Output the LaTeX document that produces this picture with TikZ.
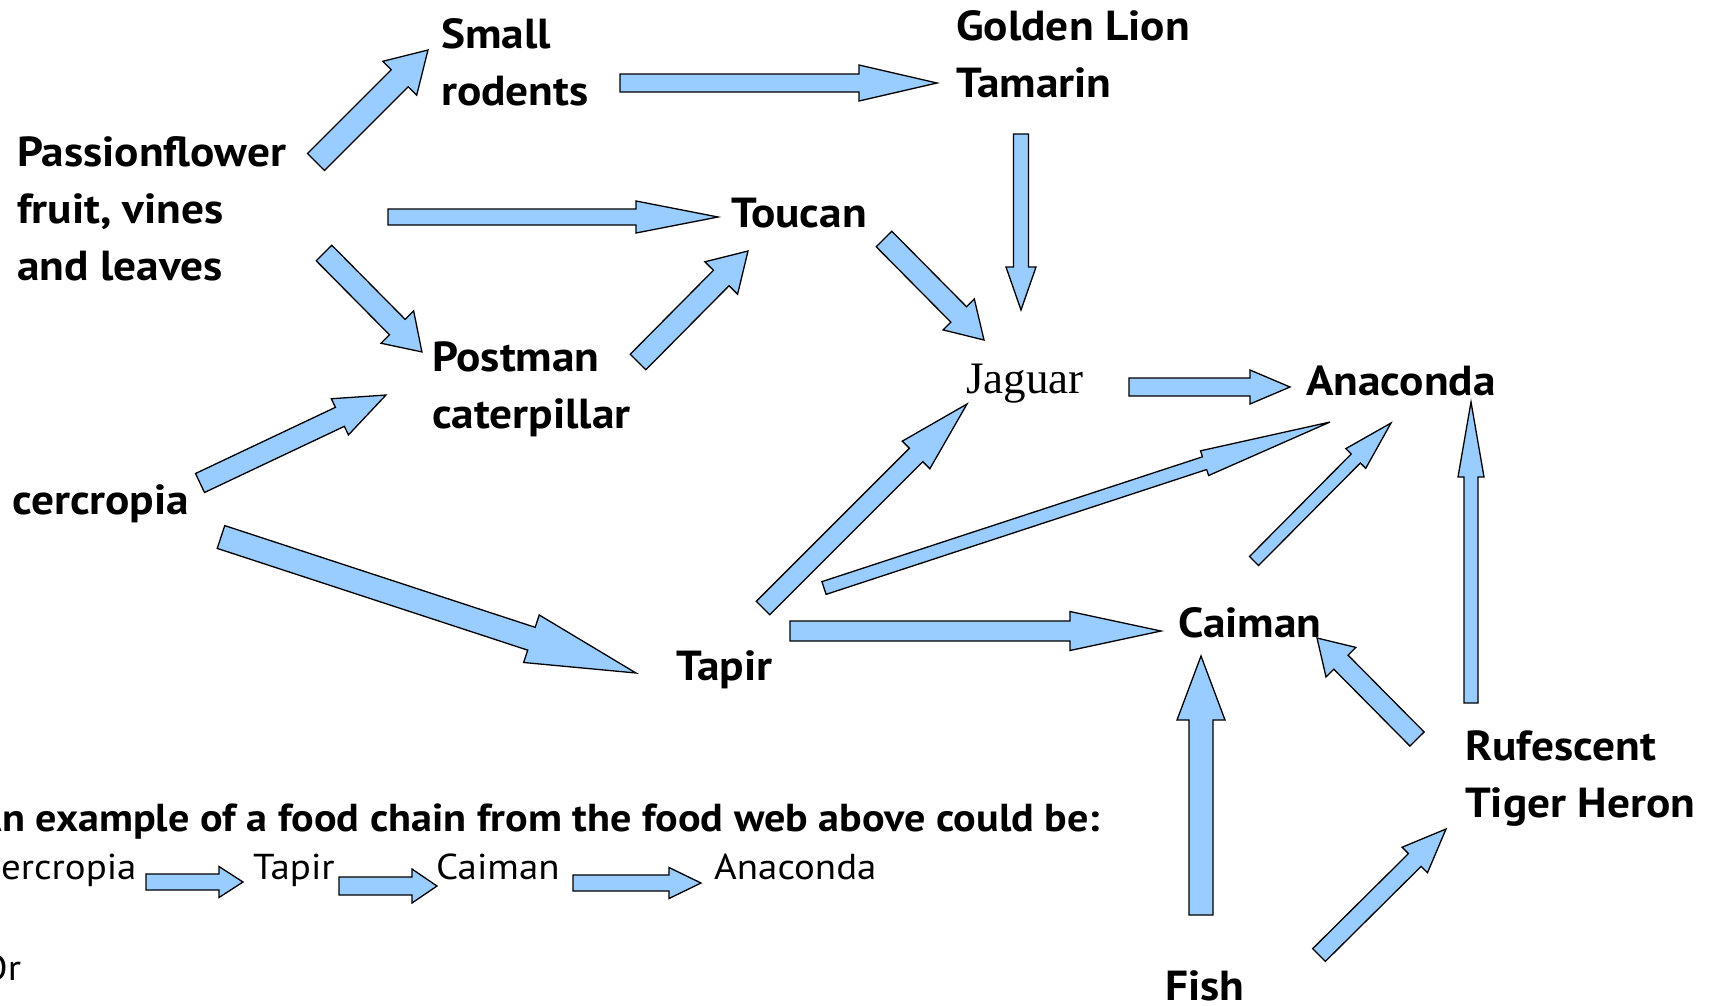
\documentclass[tikz,border=0pt]{standalone}
\usepackage{fontspec}
\newfontfamily\labelfont{PT Sans}[FakeStretch=1.08]
\newfontfamily\jagfont{Liberation Serif}
\definecolor{arrowblue}{RGB}{153,204,255}
\newcommand\lines[1]{\begin{tabular}[t]{@{}l@{}}#1\end{tabular}}
% block arrow between two named coordinates: #1 tail, #2 tip, #3 shaft half width, #4 head half width, #5 head length
\newcommand\barrow[5]{%
  \pgfpointanchor{#1}{center}\pgfgetlastxy{\bax}{\bay}%
  \pgfpointanchor{#2}{center}\pgfgetlastxy{\bbx}{\bby}%
  \pgfmathsetmacro\bang{atan2((\bby)-(\bay),(\bbx)-(\bax))}%
  \pgfmathsetmacro\blen{veclen((\bbx)-(\bax),(\bby)-(\bay))}%
  \pgfmathsetmacro\bneck{\blen-#5}%
  \draw[foodarrow,shift={(\bax,\bay)},rotate=\bang]
    (0pt,-#3pt) -- (\bneck pt,-#3pt) -- (\bneck pt,-#4pt) -- (\blen pt,0pt)
    -- (\bneck pt,#4pt) -- (\bneck pt,#3pt) -- (0pt,#3pt) -- cycle;}
\tikzset{
  foodarrow/.style={draw=black,fill=arrowblue,line width=1.3pt,line join=miter},
  lbl/.style={anchor=base west,inner sep=0pt,font=\labelfont\bfseries\fontsize{42}{57}\selectfont},
  serif/.style={anchor=base west,inner sep=0pt,font=\jagfont\fontsize{45}{57}\selectfont},
  note/.style={anchor=base west,inner sep=0pt,font=\labelfont\bfseries\fontsize{39}{46}\selectfont},
  chain/.style={anchor=base west,inner sep=0pt,font=\labelfont\fontsize{36}{42}\selectfont},
}
\begin{document}
\begin{tikzpicture}[x=1pt,y=-1pt]
\useasboundingbox (0,0) rectangle (1720,1005);
\clip (0,0) rectangle (1720,1005);
\fill[white] (0,0) rectangle (1720,1005);

% labels
\node[lbl] (small) at (441,48) {\lines{Small\\rodents}};
\node[lbl] (golden) at (956,40) {\lines{Golden Lion\\Tamarin}};
\node[lbl] (passion) at (17,166) {\lines{Passionflower\\fruit, vines\\and leaves}};
\node[lbl] (toucan) at (731,227) {Toucan};
\node[lbl] (postman) at (432,371) {\lines{Postman\\caterpillar}};
\node[serif] (jaguar) at (966,393) {Jaguar};
\node[lbl] (anaconda) at (1306,395) {Anaconda};
\node[lbl] (cercropia) at (12,514) {cercropia};
\node[lbl] (tapir) at (676,680) {Tapir};
\node[lbl] (caiman) at (1178,637) {Caiman};
\node[lbl] (heron) at (1465,760) {\lines{Rufescent\\Tiger Heron}};
\node[lbl] (fish) at (1165,1000) {Fish};

\node[note] (example) at (2,831) {\llap{A}n example of a food chain from the food web above could be:};
\node[chain] (c1) at (1,879) {\llap{C}ercropia};
\node[chain] (c2) at (253,879) {Tapir};
\node[chain] (c3) at (436,879) {Caiman};
\node[chain] (c4) at (714,879) {Anaconda};
\node[chain] (orword) at (-19,980) {Or};

% arrow end points
\coordinate (a1t) at (316,162);  \coordinate (a1h) at (428,50);
\coordinate (a2t) at (620,83);   \coordinate (a2h) at (937,83);
\coordinate (a3t) at (388,217);  \coordinate (a3h) at (718,217);
\coordinate (a4t) at (324,253);  \coordinate (a4h) at (422,352);
\coordinate (a5t) at (638,362);  \coordinate (a5h) at (748,251);
\coordinate (a6t) at (1021,134); \coordinate (a6h) at (1021,310);
\coordinate (a7t) at (884,239);  \coordinate (a7h) at (984,340);
\coordinate (a8t) at (1129,387); \coordinate (a8h) at (1290,387);
\coordinate (a9t) at (200,483);  \coordinate (a9h) at (386,395);
\coordinate (a10t) at (221,537); \coordinate (a10h) at (636,673);
\coordinate (a11t) at (763,608); \coordinate (a11h) at (967,404);
\coordinate (a12t) at (824,588); \coordinate (a12h) at (1330,422);
\coordinate (a13t) at (1254,561); \coordinate (a13h) at (1391,423);
\coordinate (a14t) at (1471,703); \coordinate (a14h) at (1471,402);
\coordinate (a15t) at (790,631); \coordinate (a15h) at (1161,631);
\coordinate (a16t) at (1201,915); \coordinate (a16h) at (1201,656);
\coordinate (a17t) at (1417,739); \coordinate (a17h) at (1317,638);
\coordinate (a18t) at (1319,955); \coordinate (a18h) at (1446,829);
\coordinate (b1t) at (146,882);  \coordinate (b1h) at (243,882);
\coordinate (b2t) at (339,886);  \coordinate (b2h) at (437,886);
\coordinate (b3t) at (573,883);  \coordinate (b3h) at (701,883);

% arrows
\barrow{a1t}{a1h}{12}{24}{40}
\barrow{a2t}{a2h}{9}{18}{78}
\barrow{a3t}{a3h}{8}{16}{82}
\barrow{a4t}{a4h}{11}{23}{35}
\barrow{a5t}{a5h}{11}{23}{38}
\barrow{a6t}{a6h}{7.5}{15}{43}
\barrow{a7t}{a7h}{11}{22}{36}
\barrow{a8t}{a8h}{9}{17}{40}
\barrow{a9t}{a9h}{10.5}{20}{51}
\barrow{a10t}{a10h}{12}{25}{110}
\barrow{a11t}{a11h}{9.5}{19.5}{72}
\barrow{a12t}{a12h}{6.7}{13}{132}
\barrow{a13t}{a13h}{6.4}{14}{50}
\barrow{a14t}{a14h}{7}{13}{75}
\barrow{a15t}{a15h}{10}{19.5}{91}
\barrow{a16t}{a16h}{12}{24}{64}
\barrow{a17t}{a17h}{10}{21}{34}
\barrow{a18t}{a18h}{9}{18}{44}
\barrow{b1t}{b1h}{8}{15.5}{24}
\barrow{b2t}{b2h}{9}{17}{25}
\barrow{b3t}{b3h}{8}{15.5}{32}
\end{tikzpicture}
\end{document}
